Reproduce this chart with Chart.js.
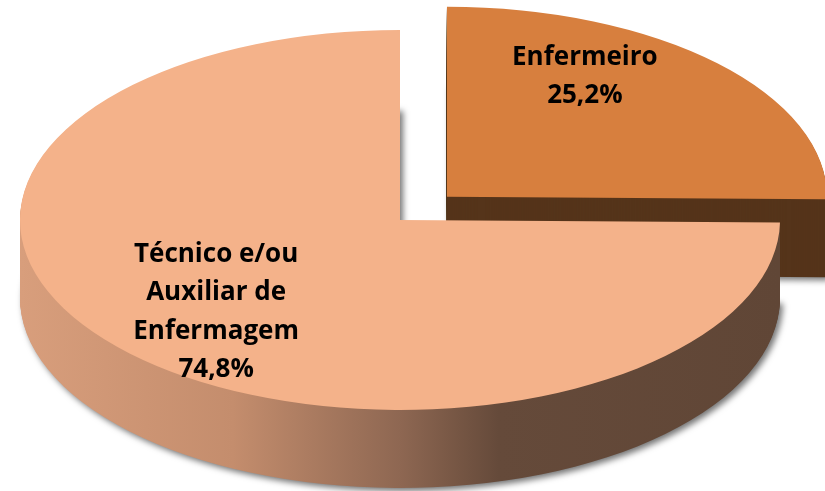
<!DOCTYPE html>
<html>
<head>
<meta charset="utf-8">
<script src="https://cdn.jsdelivr.net/npm/chart.js@4/dist/chart.umd.min.js"></script>
<style>
  body { margin: 0; background: #fff; }
</style>
</head>
<body>
<canvas id="grafico" width="825" height="491"></canvas>
<script>
// data
const categories = ["Enfermeiro", "Técnico e/ou Auxiliar de Enfermagem"];
const percents = [25.2, 74.8];
const labelLines = [["Enfermeiro", "25,2%"], ["Técnico e/ou", "Auxiliar de", "Enfermagem", "74,8%"]];

// look of the fake 3D pie
const topColors = ["#D77F3E", "#F4B28A"];
const sideColors = ["#55341A", null]; // big slice gets a gradient
const center = { x: 400, y: 220 };
const tilt = 0.5;
const depth = 78;
const labelFactor = [[0.51, 0.9], [0.68, 0.69]];

const pie3d = {
  id: "pie3d",
  beforeDatasetsDraw(chart) {
    const ctx = chart.ctx;
    const arcs = chart.getDatasetMeta(0).data;
    arcs.forEach(function(arc, i) {
      const o = arc.options;
      const top = o.backgroundColor;
      let side = sideColors[i];
      if (!side) {
        side = ctx.createLinearGradient(arc.x - 380, 0, arc.x + 380, 0);
        side.addColorStop(0, "#D89E7C");
        side.addColorStop(0.28, "#C48D6D");
        side.addColorStop(0.5, "#8E6752");
        side.addColorStop(0.63, "#654A3A");
        side.addColorStop(1, "#604636");
      }
      // side layers, bottom first
      for (let d = depth; d > 0; d--) {
        ctx.save();
        ctx.setTransform(1, 0, 0, tilt, center.x - arc.x, center.y + d - arc.y * tilt);
        if (d === depth) {
          ctx.shadowColor = "rgba(0,0,0,0.55)";
          ctx.shadowBlur = 6;
          ctx.shadowOffsetX = 3;
          ctx.shadowOffsetY = 3;
        }
        o.backgroundColor = side;
        arc.draw(ctx);
        ctx.restore();
      }
      ctx.save();
      ctx.setTransform(1, 0, 0, tilt, center.x - arc.x, center.y - arc.y * tilt);
      o.backgroundColor = top;
      arc.draw(ctx);
      ctx.restore();
      o.backgroundColor = top;
    });
    return false;
  },
  afterDraw(chart) {
    const ctx = chart.ctx;
    const arcs = chart.getDatasetMeta(0).data;
    ctx.save();
    ctx.font = "bold 26px 'Open Sans'";
    ctx.fillStyle = "#000";
    ctx.textAlign = "center";
    ctx.textBaseline = "middle";
    arcs.forEach(function(arc, i) {
      const mid = (arc.startAngle + arc.endAngle) / 2;
      const shift = (arc.options.offset || 0) / 4;
      const cx = center.x + Math.cos(mid) * shift;
      const cy = center.y + Math.sin(mid) * shift * tilt;
      const lx = cx + Math.cos(mid) * arc.outerRadius * labelFactor[i][0];
      const ly = cy + Math.sin(mid) * arc.outerRadius * tilt * labelFactor[i][1];
      const lines = labelLines[i];
      const lh = 38.5;
      lines.forEach(function(t, j) {
        ctx.fillText(t, lx, ly + (j - (lines.length - 1) / 2) * lh);
      });
    });
    ctx.restore();
  }
};

new Chart(document.getElementById("grafico"), {
  type: "pie",
  data: {
    labels: categories,
    datasets: [{
      data: percents,
      backgroundColor: topColors,
      borderWidth: 0,
      offset: [264, 0],
      radius: 380
    }]
  },
  options: {
    responsive: false,
    animation: false,
    devicePixelRatio: 1,
    layout: { padding: 0 },
    plugins: {
      legend: { display: false },
      tooltip: { enabled: false }
    }
  },
  plugins: [pie3d]
});
</script>
</body>
</html>
